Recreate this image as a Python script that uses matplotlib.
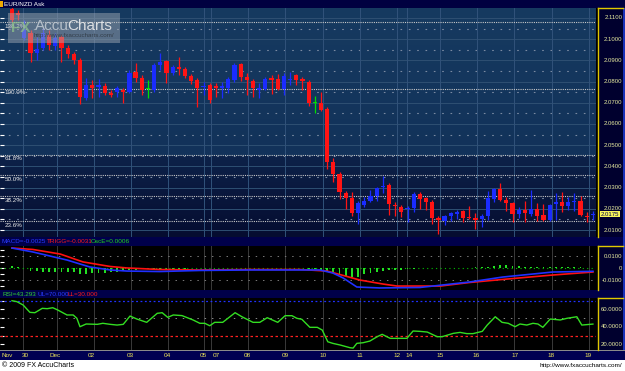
import matplotlib.pyplot as plt
import numpy as np
from matplotlib.patches import Rectangle
from matplotlib.transforms import blended_transform_factory

plt.rcParams['font.family'] = ['Liberation Sans', 'DejaVu Sans']

# EUR/NZD ask, 4h candles (29 Nov - 19 Dec 2009)
opens = [2.1143, 2.1124, 2.1006, 2.1030, 2.0936, 2.0959, 2.1020, 2.0969, 2.1011, 2.0959,
         2.0931, 2.0903, 2.0724, 2.0785, 2.0776, 2.0781, 2.0748, 2.0753, 2.0762, 2.0753,
         2.0847, 2.0818, 2.0767, 2.0762, 2.0880, 2.0898, 2.0842, 2.0870, 2.0861, 2.0828,
         2.0809, 2.0776, 2.0785, 2.0781, 2.0771, 2.0771, 2.0809, 2.0884, 2.0823, 2.0804,
         2.0762, 2.0767, 2.0818, 2.0814, 2.0767, 2.0809, 2.0833, 2.0814, 2.0800, 2.0701,
         2.0701, 2.0673, 2.0419, 2.0363, 2.0273, 2.0250, 2.0179, 2.0217, 2.0236, 2.0259,
         2.0301, 2.0311, 2.0217, 2.0207, 2.0198, 2.0203, 2.0269, 2.0250, 2.0231, 2.0156,
         2.0142, 2.0165, 2.0175, 2.0189, 2.0161, 2.0156, 2.0151, 2.0165, 2.0245, 2.0292,
         2.0240, 2.0226, 2.0175, 2.0193, 2.0175, 2.0198, 2.0170, 2.0146, 2.0221, 2.0231,
         2.0212, 2.0231, 2.0236, 2.0165, 2.0170]
closes = [2.1091, 2.1115, 2.1044, 2.0936, 2.0955, 2.1030, 2.0973, 2.1006, 2.0959, 2.0931,
          2.0903, 2.0729, 2.0785, 2.0771, 2.0785, 2.0748, 2.0739, 2.0771, 2.0753, 2.0842,
          2.0818, 2.0762, 2.0767, 2.0880, 2.0894, 2.0842, 2.0870, 2.0861, 2.0828, 2.0804,
          2.0771, 2.0781, 2.0715, 2.0771, 2.0781, 2.0814, 2.0880, 2.0823, 2.0809, 2.0771,
          2.0771, 2.0814, 2.0809, 2.0767, 2.0828, 2.0814, 2.0809, 2.0804, 2.0701, 2.0701,
          2.0668, 2.0419, 2.0363, 2.0278, 2.0250, 2.0179, 2.0226, 2.0236, 2.0259, 2.0297,
          2.0306, 2.0221, 2.0212, 2.0184, 2.0203, 2.0269, 2.0245, 2.0231, 2.0156, 2.0146,
          2.0165, 2.0179, 2.0184, 2.0156, 2.0156, 2.0146, 2.0165, 2.0250, 2.0292, 2.0240,
          2.0226, 2.0175, 2.0193, 2.0179, 2.0198, 2.0165, 2.0146, 2.0217, 2.0231, 2.0212,
          2.0231, 2.0236, 2.0170, 2.0161, 2.0175]
highs = [2.1161, 2.1138, 2.1091, 2.1044, 2.1011, 2.1053, 2.1044, 2.1030, 2.1020, 2.0973,
         2.0940, 2.0912, 2.0818, 2.0809, 2.0814, 2.0795, 2.0762, 2.0781, 2.0771, 2.0856,
         2.0889, 2.0833, 2.0809, 2.0889, 2.0936, 2.0903, 2.0880, 2.0917, 2.0870, 2.0837,
         2.0818, 2.0800, 2.0795, 2.0795, 2.0800, 2.0823, 2.0889, 2.0889, 2.0842, 2.0814,
         2.0795, 2.0823, 2.0833, 2.0837, 2.0842, 2.0847, 2.0837, 2.0823, 2.0809, 2.0734,
         2.0753, 2.0678, 2.0438, 2.0372, 2.0283, 2.0278, 2.0236, 2.0254, 2.0287, 2.0301,
         2.0353, 2.0320, 2.0231, 2.0217, 2.0212, 2.0278, 2.0278, 2.0254, 2.0240, 2.0165,
         2.0170, 2.0184, 2.0193, 2.0193, 2.0212, 2.0179, 2.0175, 2.0283, 2.0297, 2.0320,
         2.0254, 2.0231, 2.0207, 2.0236, 2.0287, 2.0226, 2.0221, 2.0221, 2.0273, 2.0278,
         2.0254, 2.0273, 2.0259, 2.0184, 2.0189]
lows = [2.1082, 2.1091, 2.0997, 2.0894, 2.0903, 2.0950, 2.0950, 2.0950, 2.0894, 2.0912,
        2.0884, 2.0692, 2.0715, 2.0724, 2.0729, 2.0739, 2.0729, 2.0729, 2.0701, 2.0748,
        2.0800, 2.0739, 2.0724, 2.0753, 2.0856, 2.0795, 2.0833, 2.0833, 2.0818, 2.0790,
        2.0682, 2.0739, 2.0701, 2.0729, 2.0724, 2.0748, 2.0800, 2.0804, 2.0739, 2.0729,
        2.0724, 2.0762, 2.0743, 2.0762, 2.0739, 2.0785, 2.0785, 2.0762, 2.0687, 2.0654,
        2.0659, 2.0386, 2.0325, 2.0245, 2.0198, 2.0165, 2.0128, 2.0207, 2.0231, 2.0236,
        2.0273, 2.0170, 2.0165, 2.0161, 2.0137, 2.0184, 2.0198, 2.0193, 2.0128, 2.0081,
        2.0123, 2.0142, 2.0151, 2.0137, 2.0151, 2.0105, 2.0114, 2.0146, 2.0231, 2.0236,
        2.0189, 2.0137, 2.0156, 2.0137, 2.0165, 2.0142, 2.0142, 2.0142, 2.0146, 2.0184,
        2.0193, 2.0189, 2.0165, 2.0137, 2.0146]
last_price = 2.0175

fib_labels = ['138.2%', '100.0%', '61.8%', '50.0%', '38.2%', '23.6%']
fib_prices = [2.1079, 2.0767, 2.0455, 2.0358, 2.0261, 2.0142]

price_ticks = [2.11, 2.10, 2.09, 2.08, 2.07, 2.06, 2.05, 2.04, 2.03, 2.02, 2.01]
price_half = [2.105, 2.095, 2.085, 2.075, 2.065, 2.055, 2.045, 2.035, 2.025, 2.015]

# MACD (blue) and trigger (red) read at sample positions (candle index)
macd_x = [0, 3.4, 6.1, 8.9, 12.6, 15.9, 18.6, 23.9, 30.4, 38.5, 46.6, 49.8, 51.9, 53.6,
          55.8, 59.5, 66.0, 74.1, 79.4, 87.5, 94.0]
macd_v = [0.0169, 0.0136, 0.0103, 0.0069, 0.0011, -0.0014, -0.0023, -0.0027, -0.0018,
          -0.0014, -0.0014, -0.0014, -0.0039, -0.0081, -0.0156, -0.0164, -0.0160, -0.0114,
          -0.0073, -0.0031, -0.0025]
trig_x = [0, 3.4, 7.8, 11.5, 15.9, 18.6, 23.9, 30.4, 38.5, 46.6, 51.0, 53.9, 56.3, 60.0,
          62.3, 69.3, 74.1, 81.1, 87.5, 94.0]
trig_v = [0.0169, 0.0157, 0.0119, 0.0053, 0.0015, 0.0003, -0.0010, -0.0014, -0.0010,
          -0.0010, -0.0023, -0.0064, -0.0098, -0.0131, -0.0148, -0.0148, -0.0118, -0.0085,
          -0.0056, -0.0031]
osc = [0.0022, 0.0011, 0.0000, -0.0022, -0.0022, -0.0028, -0.0028, -0.0028, -0.0028, -0.0033,
       -0.0033, -0.0050, -0.0050, -0.0042, -0.0042, -0.0036, -0.0028, -0.0028, -0.0022, -0.0017,
       -0.0011, -0.0008, -0.0008, -0.0006, -0.0004, -0.0004, -0.0003, -0.0002, -0.0002, -0.0001,
       0.0002, 0.0003, 0.0003, 0.0004, 0.0004, 0.0003, 0.0004, 0.0005, 0.0004, 0.0002,
       0.0002, 0.0003, 0.0002, 0.0001, 0.0002, 0.0003, 0.0002, 0.0001, -0.0003, -0.0008,
       -0.0011, -0.0022, -0.0033, -0.0050, -0.0064, -0.0069, -0.0069, -0.0050, -0.0042, -0.0028,
       -0.0022, -0.0017, -0.0014, -0.0011, -0.0008, -0.0004, 0.0004, 0.0004, 0.0003, 0.0003,
       0.0004, 0.0004, 0.0005, 0.0005, 0.0006, 0.0008, 0.0008, 0.0014, 0.0022, 0.0028,
       0.0025, 0.0022, 0.0017, 0.0014, 0.0011, 0.0011, 0.0008, 0.0008, 0.0011, 0.0011,
       0.0008, 0.0008, 0.0008, 0.0006, 0.0006]

rsi_x = [0, 0.8, 1.8, 2.9, 3.7, 4.9, 5.7, 6.6, 7.4, 8.9, 9.9, 10.5, 11.0, 12.0, 13.8, 14.7,
         15.9, 17.0, 18.0, 19.1, 20.2, 21.8, 23.5, 24.3, 25.2, 26.1, 27.5, 29.3, 30.4, 31.2,
         32.0, 32.8, 34.1, 36.1, 37.2, 39.0, 40.1, 41.3, 43.0, 44.2, 45.3, 46.1, 46.9, 48.2,
         49.4, 50.2, 51.1, 51.9, 53.1, 54.7, 55.2, 55.8, 56.8, 57.9, 59.1, 59.9, 61.2, 62.3,
         63.9, 64.9, 66.0, 67.2, 68.8, 69.6, 71.4, 72.5, 73.6, 74.6, 76.1, 76.9, 78.2, 79.3,
         80.3, 81.4, 82.2, 83.3, 84.3, 85.1, 85.9, 87.1, 88.7, 89.8, 91.4, 92.2, 94.0]
rsi_v = [70.0, 68.9, 65.1, 56.7, 56.3, 61.3, 60.9, 62.0, 59.4, 53.7, 53.7, 49.9, 40.3, 43.4,
         43.0, 44.2, 43.0, 42.2, 43.0, 52.5, 49.1, 45.3, 55.6, 56.3, 51.0, 53.7, 53.0, 48.0,
         44.2, 44.2, 41.4, 45.3, 45.3, 56.3, 51.7, 45.3, 45.3, 50.6, 45.3, 52.9, 52.9, 49.9,
         48.8, 39.6, 39.6, 36.5, 23.1, 21.3, 19.4, 16.3, 15.9, 21.3, 22.0, 23.9, 28.9, 31.6,
         27.0, 27.0, 27.0, 35.4, 35.0, 34.2, 28.9, 28.9, 32.7, 33.8, 32.4, 32.4, 35.0, 42.2,
         51.7, 45.3, 44.2, 40.3, 43.4, 42.2, 44.2, 43.4, 39.6, 49.1, 48.0, 49.9, 51.7, 42.2,
         43.3]

day_lines = [1.8, 7.3, 13.3, 19.3, 25.2, 31.1, 32.2, 38.2, 44.2, 50.3, 56.3, 62.3, 63.9,
             69.3, 75.2, 81.2, 87.4, 93.4]
day_labels = ['Nov', '30', 'Dec', '02', '03', '04', '05', '07', '08', '09', '10', '11', '12',
              '14', '15', '16', '17', '18', '19']
label_pos = [-0.7, 2.1, 7.0, 12.9, 19.1, 25.1, 30.9, 33.0, 38.0, 44.2, 50.3, 56.3, 62.3,
             64.2, 69.3, 75.1, 81.4, 87.2, 93.2]

W, H = 625, 371
fig = plt.figure(figsize=(W / 100, H / 100), dpi=100, facecolor='black')


def fx(x):
    return x / W


def fy(y):
    return 1 - y / H


def panel(x0, y0, x1, y1, color):
    a = fig.add_axes([fx(x0), fy(y1), (x1 - x0) / W, (y1 - y0) / H])
    a.set_facecolor(color)
    for s in a.spines.values():
        s.set_visible(False)
    a.set_xticks([])
    return a


def band(x0, y0, x1, y1, color, z=-1, alpha=1.0):
    fig.patches.append(Rectangle((fx(x0), fy(y1)), (x1 - x0) / W, (y1 - y0) / H,
                                 transform=fig.transFigure, facecolor=color,
                                 edgecolor='none', zorder=z, alpha=alpha))


# bars and strips
band(0, 0, 625, 8, '#000040')
band(0, 237, 625, 246, '#00004a')
band(0, 290, 625, 298, '#00004a')
band(0, 350, 625, 351, '#8a8a8a')
band(0, 351, 625, 360, '#000052')
band(0, 360, 625, 371, 'white')
band(623, 8, 625, 350, '#1a32b8')
band(0, 1, 3, 7, '#f0a800', z=3)

XMIN, XMAX = -1.94, 94.5
k = np.arange(len(opens))

# ---- main price panel
ax = panel(0, 8, 596, 237, '#0e2449')
t = np.linspace(0, 1, 229)
stops = [0, 0.646, 0.648, 1]
cols = np.array([[22, 58, 96], [18, 50, 90], [13, 34, 73], [5, 12, 48]]) / 255
grad = np.stack([np.interp(t, stops, cols[:, c]) for c in range(3)], axis=-1)[:, None, :]
ax.imshow(grad, extent=[0, 1, 0, 1], transform=ax.transAxes, aspect='auto', zorder=0)

for p in price_ticks:
    ax.axhline(p, color='#2e4f72', lw=0.7, zorder=1)
for p in price_half:
    ax.axhline(p, color='#7a8aa2', lw=0.8, dashes=(1.5, 6), zorder=1)
for d in day_lines:
    ax.axvline(d, color='#31527a', lw=0.7, zorder=1)
for lab, p in zip(fib_labels, fib_prices):
    ax.axhline(p, color='#c8c8c8', lw=0.8, dashes=(1, 1), zorder=2)
    ax.annotate(lab, (0.008, p), xycoords=('axes fraction', 'data'), xytext=(0, -1.2),
                textcoords='offset points', color='#e6e6e6', fontsize=4.5, va='top', zorder=6)

ccol = ['#1a2cff' if c > o else '#ff1414' if c < o else '#00e000' for o, c in zip(opens, closes)]
ax.vlines(k, lows, highs, colors=ccol, lw=0.9, zorder=3)
body = np.maximum(np.abs(np.array(closes) - np.array(opens)), 0.0004)
ax.bar(k, body, bottom=np.minimum(opens, closes), width=0.68, color=ccol, zorder=4)

ax.set_xlim(XMIN, XMAX)
ax.set_ylim(2.0067, 2.1147)
ax.set_yticks(price_ticks + price_half)
ax.tick_params(axis='y', direction='in', length=3, width=0.8, color='white', labelleft=False)

# ---- MACD panel
mx = panel(0, 246, 596, 290, 'black')
for d in day_lines:
    mx.axvline(d, color='#3a3a3a', lw=0.7)
for v in (0.01, -0.01):
    mx.axhline(v, color='#7a7a7a', lw=0.7, dashes=(1.5, 6))
mx.axhline(0, color='#00c000', lw=0.8, dashes=(1, 3))
mx.bar(k, osc, width=0.3, color='#22e022', zorder=2)
mx.plot(trig_x, trig_v, color='#ff1010', lw=1.2, zorder=3)
mx.plot(macd_x, macd_v, color='#2030ff', lw=1.2, zorder=4)
mx.set_xlim(XMIN, XMAX)
mx.set_ylim(-0.0181, 0.0186)
mx.set_yticks([0.015, 0.01, 0.005, 0, -0.005, -0.01, -0.015])
mx.tick_params(axis='y', direction='in', length=3, width=0.8, color='white', labelleft=False)

# ---- RSI panel
rx = panel(0, 298, 596, 350, 'black')
for d in day_lines:
    rx.axvline(d, color='#3a3a3a', lw=0.7)
rx.axhline(70, color='#2030ff', lw=0.9, dashes=(1.5, 2))
rx.axhline(50, color='#8a8a8a', lw=0.7, dashes=(1.5, 6))
rx.axhline(30, color='#ff2020', lw=0.9, dashes=(2, 2))
rx.plot(rsi_x, rsi_v, color='#33dd22', lw=1.0, zorder=3)
rx.set_xlim(XMIN, XMAX)
rx.set_ylim(13.7, 73.1)
rx.set_yticks([70, 60, 50, 40, 30, 20])
rx.tick_params(axis='y', direction='in', length=3, width=0.8, color='white', labelleft=False)

# ---- right value columns
lab_col = '#e8eca0'


def column(y0, y1, lim, ticks, labels):
    c = fig.add_axes([fx(598), fy(y1), 25 / W, (y1 - y0) / H])
    c.set_facecolor('#00002e')
    for s in ('right', 'bottom'):
        c.spines[s].set_visible(False)
    for s in ('left', 'top'):
        c.spines[s].set_color('#e0c800')
        c.spines[s].set_linewidth(1.0)
    c.set_xticks([])
    c.set_yticks([])
    c.set_xlim(0, 1)
    c.set_ylim(*lim)
    for v, s in zip(ticks, labels):
        c.text(0.97, v, s, color=lab_col, fontsize=4.3, ha='right', va='center')
    return c


pc = column(8, 237, (2.0067, 2.1147), price_ticks, ['%.4f' % p for p in price_ticks])
pc.text(0.48, last_price, '%.4f' % last_price, color='#000050', fontsize=4.3, ha='center',
        va='center', bbox=dict(boxstyle='square,pad=0.12', fc='#f6f45a', ec='none'), zorder=5)
column(246, 290, (-0.0181, 0.0186), [0.01, 0, -0.01], ['0.0100', '0', '-0.0100'])
column(298, 350, (13.7, 73.1), [60, 40, 20], ['60.0000', '40.0000', '20.0000'])

# ---- header texts
fig.text(fx(4), fy(4.2), 'EUR/NZD Ask', color='white', fontsize=4.6, va='center')
for s, x, c in [('MACD=-0.0025', 2, '#2a3cff'), ('TRIGG=-0.0031', 47, '#ff1a1a'),
                ('OscE=0.0006', 91, '#22d022')]:
    fig.text(fx(x), fy(241.5), s, color=c, fontsize=4.6, va='center')
for s, x, c in [('RSI=43.293', 3, '#33d033'), ('UL=70.000', 38, '#2a3cff'),
                ('LL=30.000', 68, '#ff1a1a')]:
    fig.text(fx(x), fy(294.2), s, color=c, fontsize=4.6, va='center')

# ---- date axis
tr = blended_transform_factory(ax.transData, fig.transFigure)
for lab, p in zip(day_labels, label_pos):
    fig.text(p, fy(355.5), lab, transform=tr, color='#ece45a', fontsize=4.6,
             ha='center', va='center')

fig.text(fx(2), fy(365.5), '\u00a9 2009 FX AccuCharts', color='black', fontsize=5, va='center')
fig.text(fx(622), fy(365.5), 'http://www.fxaccucharts.com/', color='black', fontsize=4.6,
         ha='right', va='center')

# ---- watermark
band(8, 13, 120, 43, '#aab2ba', z=5, alpha=0.45)
fig.text(fx(11), fy(28), 'FX', color='#8cc08c', fontsize=11, va='center', alpha=0.75,
         fontweight='bold', zorder=6)
fig.text(fx(35), fy(26), 'Accu', color='#c4ccd4', fontsize=11, va='center', alpha=0.85, zorder=6)
fig.text(fx(67), fy(26), 'Charts', color='#f0f0f0', fontsize=11, va='center', alpha=0.85, zorder=6)
fig.text(fx(34), fy(36), 'http://www.fxaccucharts.com/', color='#2a323a', fontsize=4.5,
         va='center', alpha=0.8, zorder=6)

fig.savefig('out.png', dpi=100, facecolor=fig.get_facecolor())
